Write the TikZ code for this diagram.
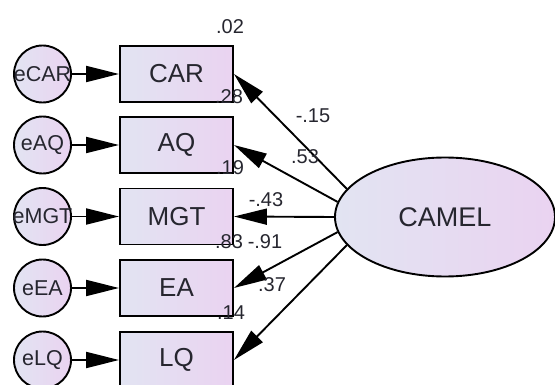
\documentclass[tikz,border=0pt]{standalone}
\usepackage{fontspec}
\setmainfont{Liberation Sans}
\usetikzlibrary{shapes.geometric,arrows.meta}
\definecolor{fillL}{HTML}{E2E4F2}
\definecolor{fillR}{HTML}{EAD3F1}
\definecolor{ink}{HTML}{26262F}
\begin{document}
\begin{tikzpicture}[x=1pt,y=-1pt,
 obs/.style={draw=black, line width=1.9pt, left color=fillL, right color=fillR, minimum width=113pt, minimum height=56pt, inner sep=0pt, font=\fontsize{26}{26}\selectfont, text=ink},
 err/.style={circle, draw=black, line width=1.9pt, left color=fillL, right color=fillR, minimum size=57pt, inner sep=0pt},
 errtxt/.style={font=\fontsize{21.5}{21.5}\selectfont, text=ink, inner sep=0pt},
 lat/.style={ellipse, draw=black, line width=1.9pt, left color=fillL, right color=fillR, minimum width=220pt, minimum height=119pt, inner sep=0pt, font=\fontsize{27}{27}\selectfont, text=ink},
 reg/.style={line width=1.9pt, -{Triangle[length=33pt,width=16pt]}},
 est/.style={font=\fontsize{20}{20}\selectfont, text=ink, inner sep=0pt}
]
\useasboundingbox (0,0) rectangle (555,385);

% observed variables
\node[obs] (car) at (176.5,74) {CAR};
\node[obs] (aq)  at (176.5,145) {AQ};
\node[obs] (mgt) at (176.5,216.5) {MGT};
\node[obs] (ea)  at (176.5,288) {EA};
\node[obs] (lq)  at (176.5,360) {LQ};

% error terms
\node[err, label={[errtxt]center:eCAR}] (ecar) at (42.5,74) {};
\node[err, label={[errtxt]center:eAQ}]  (eaq)  at (42.5,145) {};
\node[err, label={[errtxt]center:eMGT}] (emgt) at (42.5,216.5) {};
\node[err, label={[errtxt]center:eEA}]  (eea)  at (42.5,288) {};
\node[err, label={[errtxt]center:eLQ}]  (elq)  at (42.5,360) {};

% latent
\node[lat] (camel) at (445,217) {CAMEL};

% error arrows
\draw[reg] (ecar) -- (car);
\draw[reg] (eaq) -- (aq);
\draw[reg] (emgt) -- (mgt);
\draw[reg] (eea) -- (ea);
\draw[reg] (elq) -- (lq);

% loadings
\draw[reg] (camel.164) -- (car.east);
\draw[reg] (camel.172) -- (aq.east);
\draw[reg] (camel.180) -- (mgt.east);
\draw[reg] (camel.188.5) -- (ea.east);
\draw[reg] (camel.196) -- (lq.east);

% estimates
\node[est] (r2car) at (230,27) {.02};
\node[est] (r2aq)  at (229,97) {.28};
\node[est] (r2mgt) at (230,168) {.19};
\node[est] (r2ea)  at (229,242) {.83};
\node[est] (r2lq)  at (231,313) {.14};
\node[est] (lcar) at (313,116) {-.15};
\node[est] (laq)  at (305,157) {.53};
\node[est] (lmgt) at (266,200) {-.43};
\node[est] (lea)  at (265,242) {-.91};
\node[est] (llq)  at (272,285) {.37};
\end{tikzpicture}
\end{document}
